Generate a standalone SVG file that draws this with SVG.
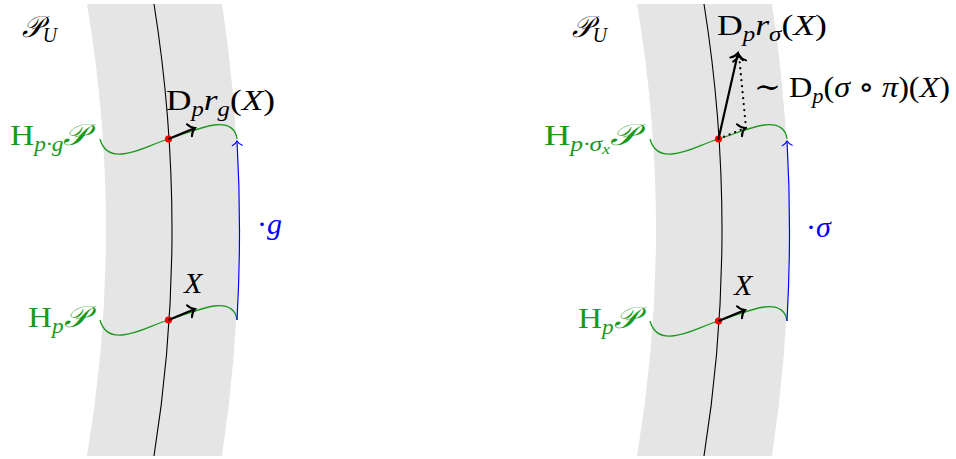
<svg xmlns="http://www.w3.org/2000/svg" width="956" height="459" viewBox="0 0 956 459">
<defs>
<style>
.band{fill:#e5e5e5;stroke:none}
.fiber{fill:none;stroke:#000;stroke-width:1.1}
.hor{fill:none;stroke:#1a991a;stroke-width:1.3}
.act{fill:none;stroke:#0000ff;stroke-width:1.2;marker-end:url(#ahB)}
.vec{fill:none;stroke:#000;stroke-width:2.2;marker-end:url(#ahK)}
.dots{fill:none;stroke:#000;stroke-width:2.3;stroke-linecap:round;stroke-dasharray:0 6;marker-end:url(#ahK)}
.pt{fill:#ff0000}
.m{font-family:"Liberation Serif","DejaVu Serif",serif;font-size:30px;fill:#000}
.g{fill:#1a991a}
.b{fill:#0000ff}
.i{font-style:italic}
.s{font-size:21px}
.sp{font-weight:normal}
</style>
<marker id="ahK" markerUnits="userSpaceOnUse" markerWidth="20" markerHeight="20" refX="0" refY="0" orient="auto" overflow="visible">
<path d="M-6,-6.5 C-4.5,-2.8 -1.2,-0.6 0,0 C-1.2,0.6 -4.5,2.8 -6,6.5" fill="none" stroke="#000" stroke-width="2" stroke-linecap="round"/>
</marker>
<marker id="ahB" markerUnits="userSpaceOnUse" markerWidth="20" markerHeight="20" refX="0" refY="0" orient="auto" overflow="visible">
<path d="M-4.5,-5 C-3.4,-2.2 -0.9,-0.5 0,0 C-0.9,0.5 -3.4,2.2 -4.5,5" fill="none" stroke="#0000ff" stroke-width="1.1" stroke-linecap="round"/>
</marker>
</defs>

<g id="left-panel">
  <g id="left-bundle"><path class="band" d="M87,4 Q125,230 87,456 L222,456 Q256,230 222,4 Z"/></g>
  <g id="left-fiber"><path class="fiber" d="M154,4 Q190,230 154,456"/></g>
  <g id="left-H-pg"><path class="hor" d="M100,139 C103,150 110,155 122,154 C138,153 152,144 168.5,139 C183,134.5 200,127 214,125 C230,123 236,130 237,139"/></g>
  <g id="left-H-p"><path class="hor" d="M100,320 C103,331 110,336 122,335 C138,334 152,325 168.5,320 C183,315.5 200,308 214,306 C230,304 236,311 237,320"/></g>
  <g id="left-point-pg"><circle class="pt" cx="168.5" cy="139" r="3.6"/></g>
  <g id="left-point-p"><circle class="pt" cx="168.5" cy="320" r="3.6"/></g>
  <g id="left-label-PU"><text class="m" x="22" y="37" textLength="35" lengthAdjust="spacingAndGlyphs"><tspan class="i">𝒫</tspan><tspan class="s i" dy="5">U</tspan></text></g>
  <g id="left-label-Hpg"><text class="m g" x="10" y="145" textLength="78" lengthAdjust="spacingAndGlyphs">H<tspan class="s i" dy="6">p·g</tspan><tspan class="i" dy="-6">𝒫</tspan></text></g>
  <g id="left-label-Hp"><text class="m g" x="28" y="327" textLength="60" lengthAdjust="spacingAndGlyphs">H<tspan class="s i" dy="6">p</tspan><tspan class="i" dy="-6">𝒫</tspan></text></g>
  <g id="left-label-Drg"><text class="m" x="166" y="110" textLength="109" lengthAdjust="spacingAndGlyphs">D<tspan class="s i" dy="6">p</tspan><tspan class="i" dy="-6">r</tspan><tspan class="s i" dy="6">g</tspan><tspan dy="-6">(</tspan><tspan class="i">X</tspan>)</text></g>
  <g id="left-label-X"><text class="m i" x="184" y="293">X</text></g>
  <g id="left-label-g"><text class="m b" x="257" y="234">·<tspan class="i">g</tspan></text></g>
</g>

<g id="right-panel">
  <g id="right-bundle"><path class="band" d="M637,4 Q675,230 637,456 L772,456 Q806,230 772,4 Z"/></g>
  <g id="right-fiber"><path class="fiber" d="M704,4 Q740,230 704,456"/></g>
  <g id="right-H-psx"><path class="hor" d="M650,139 C653,150 660,155 672,154 C688,153 702,144 718.5,139 C733,134.5 750,127 764,125 C780,123 786,130 787,139"/></g>
  <g id="right-H-p"><path class="hor" d="M650,321 C653,332 660,337 672,336 C688,335 702,326 718.5,321 C733,316.5 750,309 764,307 C780,305 786,312 787,321"/></g>
  <g id="right-point-psx"><circle class="pt" cx="718.5" cy="139" r="3.6"/></g>
  <g id="right-point-p"><circle class="pt" cx="718.5" cy="321" r="3.6"/></g>
  <g id="right-label-PU"><text class="m" x="572" y="37" textLength="35" lengthAdjust="spacingAndGlyphs"><tspan class="i">𝒫</tspan><tspan class="s i" dy="5">U</tspan></text></g>
  <g id="right-label-Hpsx"><text class="m g" x="544" y="145" textLength="93" lengthAdjust="spacingAndGlyphs">H<tspan class="s i" dy="6">p·σ</tspan><tspan class="i" font-size="15" dy="3">x</tspan><tspan class="i" dy="-9">𝒫</tspan></text></g>
  <g id="right-label-Hp"><text class="m g" x="578" y="328" textLength="60" lengthAdjust="spacingAndGlyphs">H<tspan class="s i" dy="6">p</tspan><tspan class="i" dy="-6">𝒫</tspan></text></g>
  <g id="right-label-Drs"><text class="m" x="717" y="35" textLength="110" lengthAdjust="spacingAndGlyphs">D<tspan class="s i" dy="6">p</tspan><tspan class="i" dy="-6">r</tspan><tspan class="s i" dy="6">σ</tspan><tspan dy="-6">(</tspan><tspan class="i">X</tspan>)</text></g>
  <g id="right-label-Dsp"><text class="m" x="754" y="97" textLength="196" lengthAdjust="spacingAndGlyphs">∼ D<tspan class="s i" dy="6">p</tspan><tspan dy="-6">(</tspan><tspan class="i">σ</tspan> ∘ <tspan class="i">π</tspan>)(<tspan class="i">X</tspan>)</text></g>
  <g id="right-label-X"><text class="m i" x="734" y="295">X</text></g>
  <g id="right-label-s"><text class="m b" x="806" y="237">·<tspan class="i">σ</tspan></text></g>
</g>

<g id="connectors">
  <path class="act" d="M237,320 Q242,230 237,141"/>
  <path class="vec" d="M168.5,139 L195,128"/>
  <path class="vec" d="M168.5,320 L195,309"/>
  <path class="act" d="M787,321 Q792,230 787,141"/>
  <path class="vec" d="M718.5,321 L745,310"/>
  <path class="vec" d="M718.5,139 L738,53"/>
  <path class="dots" d="M718.5,139 L745,128"/>
  <path class="dots" d="M746,128 L739,55"/>
</g>
</svg>
